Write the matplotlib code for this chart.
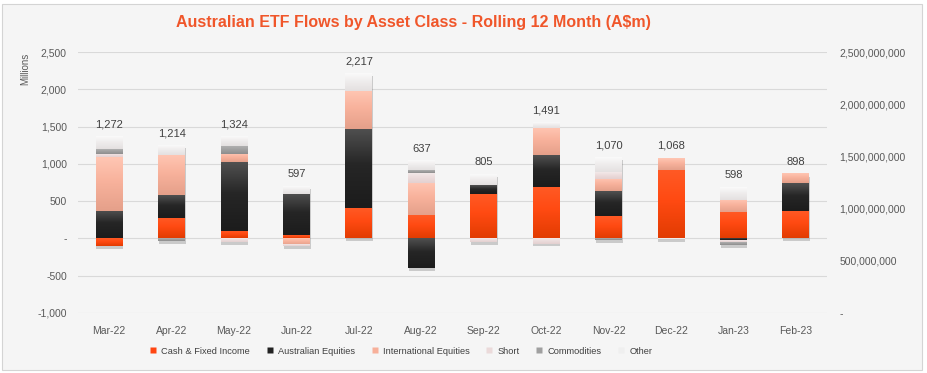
import matplotlib
matplotlib.use('Agg')
import matplotlib.pyplot as plt
import numpy as np
from matplotlib.patches import Rectangle
from matplotlib.colors import LinearSegmentedColormap
from matplotlib.lines import Line2D
import matplotlib.transforms as mtransforms
from matplotlib.ticker import FuncFormatter, MultipleLocator

months = ['Mar-22', 'Apr-22', 'May-22', 'Jun-22', 'Jul-22', 'Aug-22',
          'Sep-22', 'Oct-22', 'Nov-22', 'Dec-22', 'Jan-23', 'Feb-23']
cash = [-100, 275, 95, 40, 407, 308, 600, 688, 295, 920, 352, 366]
aus_eq = [367, 305, 925, 560, 1065, -400, 116, 425, 335, 0, -25, 375]
intl_eq = [720, 540, 112, -85, 510, 434, 0, 371, 170, 160, 165, 125]
short = [45, 0, -45, -15, 0, 134, -50, -70, 89, 0, -25, 0]
commodities = [63, -35, 107, 0, 0, 36, 0, 0, -20, 0, -40, 0]
other = [174, 130, 130, 98, 235, 125, 143, 76, 201, -12, 170, 0]
totals = [1272, 1214, 1324, 597, 2217, 637, 805, 1491, 1070, 1068, 598, 898]
series_names = ['Cash & Fixed Income', 'Australian Equities', 'International Equities',
                'Short', 'Commodities', 'Other']

# colour stops: bottom, middle, top
grads = [
    ['#e23c02', '#ff4a12', '#ff5a25'],
    ['#1c1c1c', '#262626', '#505050'],
    ['#e5a08a', '#f8b29c', '#ffc6b3'],
    ['#e3d0d0', '#ecdcdc', '#f3e9e9'],
    ['#8e8e8e', '#a0a0a0', '#b0b0b0'],
    ['#e4e0e0', '#efeded', '#fafafa'],
]
legend_colors = ['#ff4612', '#222222', '#f7b09a', '#ebdada', '#a0a0a0', '#efefef']

plt.rcParams['font.family'] = ['Liberation Sans', 'DejaVu Sans']

W, H = 927, 373
fig = plt.figure(figsize=(W / 100, H / 100), dpi=100)
fig.patch.set_facecolor('white')
fig.patches.append(Rectangle((2 / W, 3 / H), 920 / W, 366 / H, transform=fig.transFigure,
                             facecolor='#f5f5f5', edgecolor='#d4d4d4', lw=0.8, zorder=-10))

ax = fig.add_axes([78 / W, 1 - 313 / H, (827 - 78) / W, (313 - 52) / H])
ax.set_facecolor('none')

x = np.arange(len(months))
width = 0.43
data = [cash, aus_eq, intl_eq, short, commodities, other]

pos_bottom = np.zeros(len(months))
neg_bottom = np.zeros(len(months))

# shadows
all_vals = np.array(data)
pos_tot = np.where(all_vals > 0, all_vals, 0).sum(axis=0)
neg_tot = np.where(all_vals < 0, all_vals, 0).sum(axis=0)
shadow_tr = ax.transData + mtransforms.ScaledTranslation(0.5 / 72, -2.0 / 72, fig.dpi_scale_trans)
shadow = ax.bar(x, pos_tot - neg_tot, width, bottom=neg_tot, color='#7a7a7a', alpha=0.35,
                zorder=1, linewidth=0)
for p in shadow:
    p.set_transform(shadow_tr)

for vals, g in zip(data, grads):
    vals = np.array(vals, dtype=float)
    bottoms = np.where(vals >= 0, pos_bottom, neg_bottom)
    bars = ax.bar(x, vals, width, bottom=bottoms, color=g[1], linewidth=0, zorder=2)
    cmap = LinearSegmentedColormap.from_list('g', [(0, g[0]), (0.55, g[1]), (1, g[2])])
    grad = np.linspace(0, 1, 64).reshape(-1, 1)
    for p in bars:
        h = p.get_height()
        if h == 0:
            continue
        x0, y0 = p.get_x(), p.get_y()
        lo, hi = min(y0, y0 + h), max(y0, y0 + h)
        ax.imshow(grad, cmap=cmap, extent=(x0, x0 + p.get_width(), lo, hi), origin='lower',
                  aspect='auto', interpolation='bilinear', zorder=3)
    pos_bottom = pos_bottom + np.where(vals > 0, vals, 0)
    neg_bottom = neg_bottom + np.where(vals < 0, vals, 0)

for xi, top, t in zip(x, pos_bottom, totals):
    ax.annotate(f'{t:,}', (xi, top), xytext=(0, 5), textcoords='offset points',
                ha='center', va='bottom', fontsize=8, color='#404040')

ax.set_xlim(-0.5, len(months) - 0.5)
ax.set_ylim(-1000, 2500)
ax.yaxis.set_major_locator(MultipleLocator(500))
ax.yaxis.set_major_formatter(FuncFormatter(lambda v, p: '-' if v == 0 else f'{v:,.0f}'))
ax.grid(axis='y', color='#d9d9d9', lw=0.8, zorder=0)
ax.set_axisbelow(True)
ax.set_xticks(x)
ax.set_xticklabels(months)
ax.tick_params(axis='both', length=0, labelsize=7.5, colors='#595959')
ax.tick_params(axis='y', pad=8)
ax.tick_params(axis='x', pad=9)
for s in ax.spines.values():
    s.set_visible(False)

ax2 = ax.twinx()
ax2.set_ylim(0, 2.5e9)
ax2.yaxis.set_major_locator(MultipleLocator(5e8))
ax2.yaxis.set_major_formatter(FuncFormatter(lambda v, p: '-' if v == 0 else f'{v:,.0f}'))
ax2.tick_params(axis='y', length=0, labelsize=7.5, colors='#595959', pad=9)
for s in ax2.spines.values():
    s.set_visible(False)

fig.text(25 / W, 1 - 69 / H, 'Millions', rotation=90, ha='center', va='center',
         fontsize=7, color='#595959')

fig.text(413 / W, 1 - 23 / H, 'Australian ETF Flows by Asset Class - Rolling 12 Month (A$m)',
         ha='center', va='center', fontsize=11.5, fontweight='bold', color='#f0562a')

handles = [Line2D([], [], marker='s', linestyle='none', markersize=4.5,
                  markerfacecolor=c, markeredgecolor='none') for c in legend_colors]
fig.legend(handles, series_names, loc='center', bbox_to_anchor=(401 / W, 1 - 351 / H),
           ncol=6, frameon=False, fontsize=6.7, handletextpad=0.5, columnspacing=1.7,
           handlelength=0.8, labelcolor='#404040')

fig.savefig('out.png', dpi=100, facecolor=fig.get_facecolor())
